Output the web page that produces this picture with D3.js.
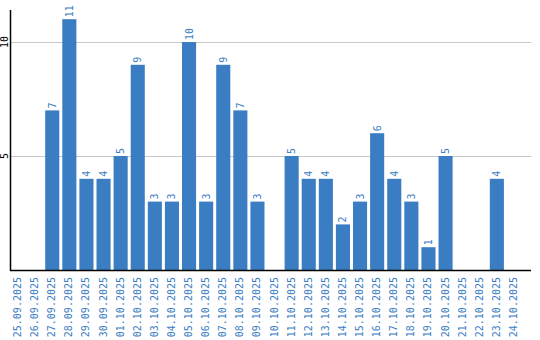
<!DOCTYPE html>
<html>
<head>
<meta charset="utf-8">
<script src="https://cdn.jsdelivr.net/npm/d3@7"></script>
<style>
  body { margin: 0; background: #fff; }
  text { font-family: "DejaVu Sans Mono", monospace; font-size: 10px; }
  .bar { fill: #3a7dc2; }
  .val, .xlab { fill: #3a7dc2; }
  .grid { stroke: #c8c8c8; stroke-width: 1; }
</style>
</head>
<body>
<div id="chart"></div>
<script>
// daily counts
const dates = ["25.09.2025","26.09.2025","27.09.2025","28.09.2025","29.09.2025","30.09.2025",
  "01.10.2025","02.10.2025","03.10.2025","04.10.2025","05.10.2025","06.10.2025","07.10.2025",
  "08.10.2025","09.10.2025","10.10.2025","11.10.2025","12.10.2025","13.10.2025","14.10.2025",
  "15.10.2025","16.10.2025","17.10.2025","18.10.2025","19.10.2025","20.10.2025","21.10.2025",
  "22.10.2025","23.10.2025","24.10.2025"];
const counts = [0,0,7,11,4,4,5,9,3,3,10,3,9,7,3,0,5,4,4,2,3,6,4,3,1,5,0,0,4,0];
const yTicks = [5, 10];

const width = 540, height = 340;
const plotLeft = 11, plotRight = 531, plotTop = 10, base = 270;

const svg = d3.select("#chart").append("svg")
    .attr("width", width)
    .attr("height", height);

const x = d3.scaleBand()
    .domain(dates)
    .range([plotLeft, plotLeft + dates.length * 17])
    .paddingInner(3 / 17)
    .paddingOuter(0)
    .align(0);

const y = d3.scaleLinear()
    .domain([0, 11])
    .range([base, base - 11 * 22.8]);

// gridlines
svg.selectAll("line.grid")
    .data(yTicks)
    .enter()
    .append("line")
    .attr("class", "grid")
    .attr("x1", plotLeft)
    .attr("x2", plotRight)
    .attr("y1", d => Math.round(y(d)) + 0.5)
    .attr("y2", d => Math.round(y(d)) + 0.5);

// y tick labels, rotated
svg.selectAll("text.ytick")
    .data(yTicks)
    .enter()
    .append("text")
    .attr("class", "ytick")
    .attr("text-anchor", "middle")
    .attr("transform", d => "translate(8," + y(d) + ") rotate(-90)")
    .text(d => d);

// bars
const rows = dates.map((d, i) => ({date: d, count: counts[i]}));
svg.selectAll("rect.bar")
    .data(rows.filter(d => d.count > 0))
    .enter()
    .append("rect")
    .attr("class", "bar")
    .attr("x", d => x(d.date))
    .attr("y", d => y(d.count))
    .attr("width", x.bandwidth())
    .attr("height", d => base - y(d.count));

// value labels above bars
svg.selectAll("text.val")
    .data(rows.filter(d => d.count > 0))
    .enter()
    .append("text")
    .attr("class", "val")
    .attr("transform", d => "translate(" + (x(d.date) + x.bandwidth() / 2 + 3.5) + "," + (y(d.count) - 2) + ") rotate(-90)")
    .text(d => d.count);

// axes lines
svg.append("line")
    .attr("x1", plotLeft - 0.5).attr("x2", plotLeft - 0.5)
    .attr("y1", plotTop).attr("y2", base + 1)
    .attr("stroke", "#000").attr("stroke-width", 1.5);
svg.append("line")
    .attr("x1", plotLeft - 1).attr("x2", plotRight)
    .attr("y1", base + 0.5).attr("y2", base + 0.5)
    .attr("stroke", "#000").attr("stroke-width", 1.5);

// date labels
svg.selectAll("text.xlab")
    .data(dates)
    .enter()
    .append("text")
    .attr("class", "xlab")
    .attr("text-anchor", "end")
    .attr("transform", d => "translate(" + (x(d) + x.bandwidth() / 2 + 3) + "," + (base + 7) + ") rotate(-90)")
    .text(d => d);
</script>
</body>
</html>
